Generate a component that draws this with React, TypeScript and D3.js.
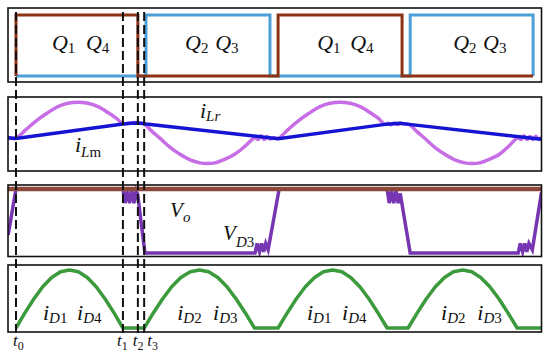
import React from 'react';
import * as d3 from 'd3';

type P = [number, number];

// time axis: t0 = 0, switching period = 10 (arbitrary units)
const timeDomain: P = [-0.305, 20.05];

// Panel 1: gate signals (0 = low, 1 = high)
const gateQ14: P[] = [[0, 0], [0, 1], [4.65, 1], [4.65, 0], [10, 0], [10, 1], [14.73, 1], [14.73, 0], [19.73, 0]];
const gateQ23: P[] = [[0, 0], [4.96, 0], [4.96, 1], [9.69, 1], [9.69, 0], [15.04, 0], [15.04, 1], [19.73, 1], [19.73, 0]];

// Panel 2: resonant current iLr and magnetizing current iLm
const iLr: P[] = [
  [-0.3, -0.11], [0, -0.11], [0.38, 0.12], [0.76, 0.35], [1.18, 0.56], [1.6, 0.74], [1.98, 0.83], [2.37, 0.86],
  [2.75, 0.83], [3.13, 0.74], [3.51, 0.58], [3.82, 0.43], [4.08, 0.28], [4.3, 0.29], [4.5, 0.31], [4.66, 0.3],
  [4.89, 0.27], [5.19, 0.07], [5.5, -0.12], [5.88, -0.36], [6.26, -0.55], [6.64, -0.7], [7.02, -0.78], [7.29, -0.8],
  [7.6, -0.78], [7.98, -0.68], [8.36, -0.54], [8.74, -0.33], [9.12, -0.1], [9.24, -0.15], [9.35, -0.05], [9.47, -0.15],
  [9.58, -0.07], [9.69, -0.135], [9.85, -0.1], [10.0, -0.12],
  [10.38, 0.12], [10.76, 0.35], [11.18, 0.56], [11.6, 0.74], [11.98, 0.83], [12.37, 0.86], [12.75, 0.83],
  [13.13, 0.74], [13.51, 0.58], [13.82, 0.43], [14.08, 0.26], [14.2, 0.29], [14.31, 0.25], [14.42, 0.3],
  [14.54, 0.26], [14.66, 0.29], [14.8, 0.27], [15.0, 0.26], [15.29, 0.07], [15.6, -0.12], [15.98, -0.36],
  [16.36, -0.55], [16.74, -0.7], [17.12, -0.78], [17.39, -0.8], [17.7, -0.78], [18.08, -0.68], [18.46, -0.54],
  [18.8, -0.33], [19.15, -0.1], [19.27, -0.15], [19.38, -0.05], [19.5, -0.15], [19.61, -0.07], [19.72, -0.15],
  [19.83, -0.06], [19.94, -0.14], [20.05, -0.1],
];
const iLm: P[] = [
  [-0.3, -0.1], [0, -0.12], [4.08, 0.27], [4.4, 0.29], [4.66, 0.3], [4.96, 0.27], [10, -0.13],
  [14.08, 0.26], [14.4, 0.28], [14.66, 0.29], [15.0, 0.26], [20.05, -0.14],
];

// Panel 3: output voltage Vo and diode voltage VD3 (normalised to Vo)
const vo: P[] = [[-0.305, 1], [20.05, 1]];
const vD3: P[] = [
  [-0.3, 0.28], [0, 1], [4.08, 1], [4.16, 0.78], [4.25, 0.97], [4.33, 0.78], [4.42, 0.97], [4.5, 0.78],
  [4.58, 0.97], [4.64, 0.92], [4.92, 0], [9.12, 0], [9.2, 0.15], [9.29, 0.02], [9.37, 0.15], [9.45, 0.02],
  [9.53, 0.15], [9.62, 0.05], [10.04, 1], [14.16, 1], [14.24, 0.78], [14.33, 0.97], [14.41, 0.78], [14.5, 0.97],
  [14.58, 0.78], [14.66, 0.93], [15.04, 0], [19.16, 0], [19.24, 0.15], [19.33, 0.02], [19.41, 0.15], [19.49, 0.02],
  [19.57, 0.15], [19.7, 0.05], [20.05, 0.95],
];

// Panel 4: rectifier diode currents
const iD: P[] = [
  [0, 0], [0.34, 0.26], [0.68, 0.5], [1.02, 0.71], [1.36, 0.87], [1.7, 0.97], [2.04, 1], [2.38, 0.97], [2.72, 0.87],
  [3.06, 0.71], [3.4, 0.5], [3.74, 0.26], [4.08, 0],
  [4.89, 0], [5.24, 0.26], [5.59, 0.5], [5.94, 0.71], [6.29, 0.87], [6.65, 0.97], [7.0, 1], [7.35, 0.97], [7.7, 0.87],
  [8.05, 0.71], [8.4, 0.5], [8.75, 0.26], [9.1, 0],
  [10.0, 0], [10.35, 0.26], [10.69, 0.5], [11.04, 0.71], [11.39, 0.87], [11.73, 0.97], [12.08, 1], [12.43, 0.97],
  [12.77, 0.87], [13.12, 0.71], [13.47, 0.5], [13.81, 0.26], [14.16, 0],
  [14.96, 0], [15.31, 0.26], [15.65, 0.5], [16.0, 0.71], [16.35, 0.87], [16.69, 0.97], [17.04, 1], [17.39, 0.97],
  [17.73, 0.87], [18.08, 0.71], [18.43, 0.5], [18.77, 0.26], [19.12, 0], [20.05, 0],
];

// switching instants
const switchTimes = [0, 4.08, 4.65, 4.89];
const switchNames = ['0', '1', '2', '3'];

// annotation labels: [base, subscript parts (text, italic)], anchor time, anchor value
type Sub = [string, boolean][];
const qLabels: { t: number; sub: Sub }[] = [
  { t: 1.37, sub: [['1', false]] }, { t: 2.67, sub: [['4', false]] },
  { t: 6.45, sub: [['2', false]] }, { t: 7.6, sub: [['3', false]] },
  { t: 11.49, sub: [['1', false]] }, { t: 12.75, sub: [['4', false]] },
  { t: 16.68, sub: [['2', false]] }, { t: 17.82, sub: [['3', false]] },
];
const dLabels: { t: number; sub: Sub }[] = [
  { t: 1.03, sub: [['D', true], ['1', false]] }, { t: 2.33, sub: [['D', true], ['4', false]] },
  { t: 6.15, sub: [['D', true], ['2', false]] }, { t: 7.52, sub: [['D', true], ['3', false]] },
  { t: 11.1, sub: [['D', true], ['1', false]] }, { t: 12.44, sub: [['D', true], ['4', false]] },
  { t: 16.22, sub: [['D', true], ['2', false]] }, { t: 17.6, sub: [['D', true], ['3', false]] },
];

const FONT = "'Liberation Serif','Times New Roman',serif";

function Sym({ x, y, base, sub, fs, sfs, dy }: { x: number; y: number; base: string; sub: Sub; fs: number; sfs: number; dy: number }) {
  return (
    <text x={x} y={y} fontFamily={FONT} fontSize={fs} fill="#111">
      <tspan fontStyle="italic">{base}</tspan>
      {sub.map((s, i) => (
        <tspan key={i} fontSize={sfs} fontStyle={s[1] ? 'italic' : 'normal'} dy={i === 0 ? dy : 0}>{s[0]}</tspan>
      ))}
    </text>
  );
}

export default function App() {
  const left = 8, right = 541.5;
  const x = d3.scaleLinear().domain(timeDomain).range([left, right]);
  const panels = [
    { top: 8, bottom: 82 },
    { top: 97, bottom: 171 },
    { top: 185, bottom: 256.5 },
    { top: 265, bottom: 332 },
  ];
  const y1 = d3.scaleLinear().domain([0, 1]).range([76, 15]);
  const y2 = d3.scaleLinear().domain([-1, 1]).range([171, 97]);
  const y3 = d3.scaleLinear().domain([0, 1]).range([253, 189]);
  const y4 = d3.scaleLinear().domain([0, 1]).range([328, 270]);

  const lin = (ys: d3.ScaleLinear<number, number>) =>
    d3.line<P>().x(d => x(d[0])).y(d => ys(d[1]));
  const smooth = (ys: d3.ScaleLinear<number, number>) =>
    d3.line<P>().x(d => x(d[0])).y(d => ys(d[1])).curve(d3.curveCatmullRom.alpha(0.5));

  return (
    <svg width={550} height={356} style={{ position: 'absolute', left: 0, top: 0, background: '#fff' }}>
      <defs>
        {panels.map((p, i) => (
          <clipPath id={`clip${i}`} key={i}>
            <rect x={left} y={p.top} width={right - left} height={p.bottom - p.top} />
          </clipPath>
        ))}
      </defs>
      <rect x={0} y={0} width={550} height={356} fill="#fff" />

      {/* panel 1 */}
      <g clipPath="url(#clip0)" fill="none" strokeLinejoin="miter">
        <path d={lin(y1)(gateQ23) || ''} stroke="#4c9fd6" strokeWidth={3} />
        <path d={lin(y1)(gateQ14) || ''} stroke="#8e3214" strokeWidth={3} />
      </g>

      {/* panel 2 */}
      <g clipPath="url(#clip1)" fill="none" strokeLinecap="round">
        <path d={smooth(y2)(iLr) || ''} stroke="#c76ee6" strokeWidth={3.5} />
        <path d={lin(y2)(iLm) || ''} stroke="#1414d2" strokeWidth={3.5} />
      </g>

      {/* panel 3 */}
      <g clipPath="url(#clip2)" fill="none">
        <path d={lin(y3)(vD3) || ''} stroke="#7636b2" strokeWidth={3.5} />
        <path d={lin(y3)(vo) || ''} stroke="#8c4838" strokeWidth={4.5} />
      </g>

      {/* panel 4 */}
      <g clipPath="url(#clip3)" fill="none">
        <path d={lin(y4)(iD) || ''} stroke="#3b9a3b" strokeWidth={3.5} strokeLinejoin="round" />
      </g>

      {/* panel frames */}
      {panels.map((p, i) => (
        <rect key={i} x={left} y={p.top} width={right - left} height={p.bottom - p.top}
          fill="none" stroke="#111" strokeWidth={1.6} />
      ))}

      {/* switching-instant dashed lines */}
      {switchTimes.map((t, i) => (
        <line key={i} x1={x(t)} x2={x(t)} y1={12} y2={334} stroke="#111" strokeWidth={2} strokeDasharray="9,4" />
      ))}

      {/* labels */}
      {qLabels.map((l, i) => (
        <Sym key={i} x={x(l.t)} y={y1(0.43)} base="Q" sub={l.sub} fs={22} sfs={15} dy={3} />
      ))}
      <Sym x={x(7.02)} y={y2(0.43)} base="i" sub={[['L', true], ['r', true]]} fs={22} sfs={15} dy={3} />
      <Sym x={x(2.25)} y={y2(-0.49)} base="i" sub={[['L', true], ['m', false]]} fs={22} sfs={15} dy={5} />
      <Sym x={x(5.88)} y={y3(0.56)} base="V" sub={[['o', true]]} fs={21} sfs={15} dy={5} />
      <Sym x={x(7.9)} y={y3(0.2)} base="V" sub={[['D', true], ['3', false]]} fs={21} sfs={15} dy={7} />
      {dLabels.map((l, i) => (
        <Sym key={i} x={x(l.t)} y={y4(0.14)} base="i" sub={l.sub} fs={22} sfs={15} dy={3} />
      ))}
      {switchTimes.map((t, i) => (
        <Sym key={i} x={x(t) + [-3, -6, -5, 3][i]} y={346} base="t" sub={[[switchNames[i], false]]} fs={17} sfs={12} dy={4} />
      ))}
    </svg>
  );
}
